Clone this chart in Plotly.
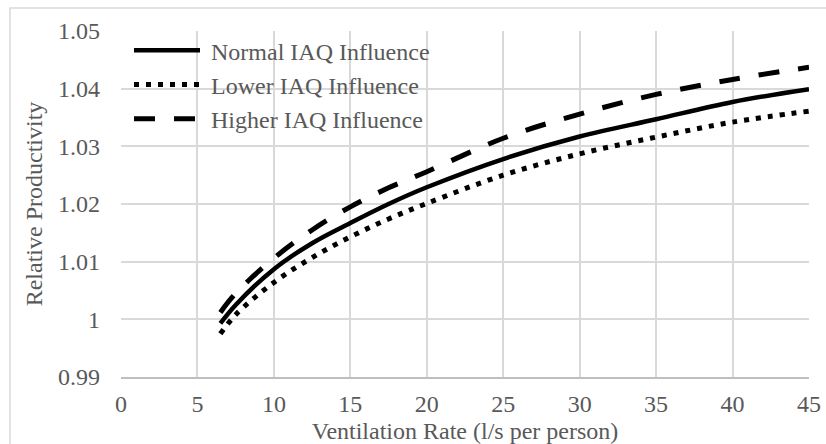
import plotly.graph_objects as go

# Ventilation rate (l/s per person)
vent_rate = [6.5, 7.5, 10, 12.5, 15, 17.5, 20, 25, 30, 35, 40, 45]

# Relative productivity for the three IAQ influence cases
normal_iaq = [0.9993, 1.0025, 1.0087, 1.0132, 1.0167, 1.0200, 1.0229, 1.0278, 1.0317, 1.0347, 1.0377, 1.0399]
lower_iaq = [0.9975, 1.0008, 1.0064, 1.0107, 1.0143, 1.0174, 1.0201, 1.0250, 1.0287, 1.0316, 1.0342, 1.0361]
higher_iaq = [1.0012, 1.0045, 1.0106, 1.0155, 1.0195, 1.0228, 1.0256, 1.0314, 1.0356, 1.0390, 1.0416, 1.0437]

x_ticks = [0, 5, 10, 15, 20, 25, 30, 35, 40, 45]
y_ticks = [0.99, 1.00, 1.01, 1.02, 1.03, 1.04, 1.05]
y_tick_text = ["0.99", "1", "1.01", "1.02", "1.03", "1.04", "1.05"]

FONT = "Liberation Serif"
TXT = "#595959"
GRID = "#d9d9d9"

fig = go.Figure()
fig.add_trace(go.Scatter(x=vent_rate, y=normal_iaq, mode="lines", name="\u00a0Normal IAQ Influence",
                         line=dict(color="black", width=4.5, shape="spline")))
fig.add_trace(go.Scatter(x=vent_rate, y=lower_iaq, mode="lines", name="\u00a0Lower IAQ Influence",
                         line=dict(color="black", width=5, shape="spline", dash="5px,7px")))
fig.add_trace(go.Scatter(x=vent_rate, y=higher_iaq, mode="lines", name="\u00a0Higher IAQ Influence",
                         line=dict(color="black", width=5, shape="spline", dash="21px,19px")))

# outer chart frame (extends past the right and bottom edges)
pw, ph = 688.0, 346.0
fig.add_shape(type="rect", xref="paper", yref="paper",
              x0=(10 - 121) / pw, x1=(840 - 121) / pw,
              y0=-(460 - 377) / ph, y1=1 + (31 - 8) / ph,
              line=dict(color=GRID, width=1.5), fillcolor="rgba(0,0,0,0)", layer="below")

fig.update_layout(
    width=826, height=444,
    margin=dict(l=121, r=17, t=31, b=67, autoexpand=False),
    paper_bgcolor="white", plot_bgcolor="white",
    font=dict(family=FONT, size=24, color=TXT),
    showlegend=True,
    legend=dict(x=8 / pw, y=1.008, xanchor="left", yanchor="top",
                bgcolor="rgba(0,0,0,0)", font=dict(family=FONT, size=24, color=TXT),
                itemwidth=66, tracegroupgap=0),
    xaxis=dict(range=[0, 45], tickvals=x_ticks, showgrid=True, gridcolor=GRID, gridwidth=1.5,
               zeroline=False, showline=True, linecolor="#bfbfbf", linewidth=2, mirror=False,
               automargin=False, ticks="", ticklabelstandoff=4,
               tickfont=dict(family=FONT, size=24, color=TXT),
               title=dict(text="Ventilation Rate (l/s per person)", standoff=6,
                          font=dict(family=FONT, size=24, color=TXT))),
    yaxis=dict(range=[0.99, 1.05], tickvals=y_ticks, ticktext=y_tick_text, showgrid=True,
               gridcolor=GRID, gridwidth=1.5, zeroline=False, showline=False, automargin=False,
               ticks="", ticklabelstandoff=20, tickfont=dict(family=FONT, size=24, color=TXT),
               title=dict(text="Relative Productivity", standoff=8,
                          font=dict(family=FONT, size=24, color=TXT))),
)

fig.write_html("out.html")
